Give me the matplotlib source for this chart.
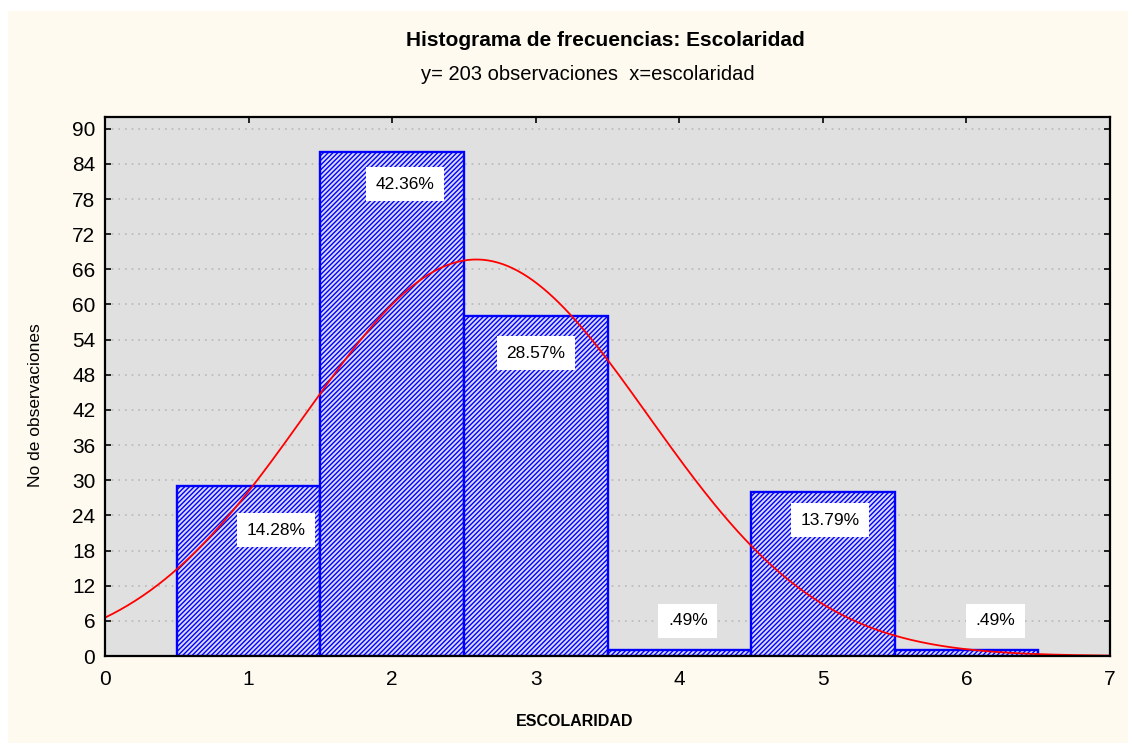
import numpy as np
import matplotlib
matplotlib.use("Agg")
import matplotlib.pyplot as plt
from matplotlib.patches import Rectangle

plt.rcParams['font.family'] = ['Liberation Sans', 'DejaVu Sans']
plt.rcParams['hatch.linewidth'] = 1.0

# data
escolaridad = [1, 2, 3, 4, 5, 6]
frecuencias = [29, 86, 58, 1, 28, 1]
porcentajes = ['14.28%', '42.36%', '28.57%', '.49%', '13.79%', '.49%']
y_ticks = list(range(0, 91, 6))
x_ticks = list(range(0, 8))

# where the percentage boxes sit (x, y in data units)
label_pos = [(1.19, 21.5), (2.09, 80.5), (3.0, 51.7), (4.06, 6.0), (5.05, 23.2), (6.2, 6.0)]

n = sum(frecuencias)
vals = np.repeat(escolaridad, frecuencias)
media = vals.mean()
desv = vals.std(ddof=1)

fig = plt.figure(figsize=(11.32, 7.46), dpi=100, facecolor='white')
fig.patches.append(Rectangle((8 / 1132, 3 / 746), 1120 / 1132, 732 / 746,
                             transform=fig.transFigure, facecolor='#fefaef',
                             edgecolor='none', zorder=-5))

ax = fig.add_axes([105 / 1132, 1 - 656 / 746, 1005 / 1132, 539 / 746])
ax.set_zorder(2)
ax.set_facecolor('#e0e0e0')

ax.bar(escolaridad, frecuencias, width=1.0, facecolor='#dadaf2', edgecolor='#0000ff',
       linewidth=1.7, hatch='///////', zorder=2)

xs = np.linspace(0, 7, 400)
curva = n * 1.0 / (desv * np.sqrt(2 * np.pi)) * np.exp(-0.5 * ((xs - media) / desv) ** 2)
ax.plot(xs, curva, color='#ff0000', linewidth=1.3, zorder=3)

for (lx, ly), txt in zip(label_pos, porcentajes):
    ax.text(lx, ly, txt, ha='center', va='center', fontsize=12.5, zorder=4,
            bbox=dict(boxstyle='square,pad=0.55', facecolor='white', edgecolor='none'))

ax.set_xlim(0, 7)
ax.set_ylim(0, 92)
ax.set_xticks(x_ticks)
ax.set_yticks(y_ticks)
ax.tick_params(axis='both', direction='in', length=4, width=1.2, labelsize=15,
               top=True, right=True)
ax.tick_params(axis='x', pad=10)
ax.tick_params(axis='y', pad=7)
ax.yaxis.grid(True, linestyle=(0, (1, 3)), color='#b8b8b8', linewidth=1.2)
ax.set_axisbelow(True)
for s in ax.spines.values():
    s.set_linewidth(1.6)
    s.set_zorder(5)

fig.text(605 / 1132, 1 - 40 / 746, 'Histograma de frecuencias: Escolaridad',
         ha='center', va='center', fontsize=15, fontweight='bold')
fig.text(588 / 1132, 1 - 75 / 746, 'y= 203 observaciones  x=escolaridad',
         ha='center', va='center', fontsize=14.5)
fig.text(36 / 1132, 1 - 405 / 746, 'No de observaciones', rotation=90,
         ha='center', va='center', fontsize=12.5)
fig.text(575 / 1132, 1 - 722 / 746, 'ESCOLARIDAD', ha='center', va='center',
         fontsize=11.5, fontweight='bold')

fig.savefig('out.png', dpi=100, facecolor=fig.get_facecolor())
